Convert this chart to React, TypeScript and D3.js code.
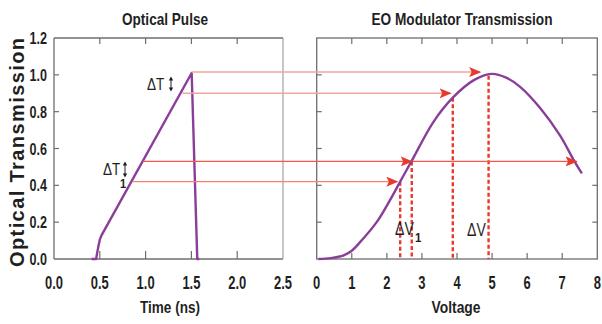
import React from "react";
import * as d3 from "d3";

// ---- data ----
const pulseTime = [0.41, 0.46, 0.47, 0.485, 0.5, 0.52, 1.503, 1.564, 1.586];
const pulseTrans = [0, 0, 0.03, 0.07, 0.105, 0.13, 1.01, 0, 0];

const modVoltage = [0.05, 0.4, 0.77, 1.0, 1.23, 1.71, 2.09, 2.38, 2.7, 3.33, 3.88, 4.47, 4.99, 5.4, 5.8, 6.37, 6.94, 7.32, 7.56];
const modTrans = [0, 0.005, 0.02, 0.045, 0.09, 0.2, 0.32, 0.42, 0.53, 0.745, 0.876, 0.97, 1.005, 0.985, 0.935, 0.82, 0.67, 0.54, 0.465];

const timeTicks = [0, 0.5, 1.0, 1.5, 2.0, 2.5];
const timeTickLabels = ["0.0", "0.5", "1.0", "1.5", "2.0", "2.5"];
const transTicks = [0, 0.2, 0.4, 0.6, 0.8, 1.0, 1.2];
const transTickLabels = ["0.0", "0.2", "0.4", "0.6", "0.8", "1.0", "1.2"];
const voltTicks = [0, 1, 2, 3, 4, 5, 6, 7, 8];
const voltTickLabels = ["0", "1", "2", "3", "4", "5", "6", "7", "8"];

// horizontal projection arrows
const arrowLevels = [1.015, 0.9, 0.53, 0.42];
const arrowStartTime = [1.503, 1.4, 0.97, 0.86];
const arrowEndVolt = [4.66, 3.82, 2.71, 2.3];
const arrowColors = ["#f4a49c", "#f4a49c", "#f2574a", "#f5836f"];
// second arrow along the 0.53 level
const secondArrowLevel = 0.53;
const secondArrowFrom = 2.74;
const secondArrowTo = 7.41;

// dashed drops
const dashVolt = [2.38, 2.71, 3.88, 4.9];
const dashTop = [0.42, 0.53, 0.876, 0.995];

const FONT = "'Liberation Sans', Arial, Helvetica, sans-serif";
const PURPLE = "#8b3e99";
const RED = "#e8392d";
const FRAME = "#6e6e6e";
const INK = "#1f1f1f";

type NTProps = {
  x: number;
  y: number;
  size: number;
  bold?: boolean;
  anchor?: "start" | "middle" | "end";
  sx?: number;
  children: React.ReactNode;
};

function NT({ x, y, size, bold = true, anchor = "start", sx = 0.8, children }: NTProps) {
  return (
    <text
      transform={`translate(${x},${y}) scale(${sx},1)`}
      textAnchor={anchor}
      fontFamily={FONT}
      fontWeight={bold ? "bold" : "normal"}
      fontSize={size}
      fill={INK}
    >
      {children}
    </text>
  );
}

export default function App() {
  const W = 602, H = 324;
  const top = 38, bottom = 259;
  const L1 = 54, R1 = 283;
  const L2 = 316.7, R2 = 597.3;

  const y = d3.scaleLinear().domain([0, 1.2]).range([bottom, top]);
  const xT = d3.scaleLinear().domain([0, 2.5]).range([L1, R1]);
  const xV = d3.scaleLinear().domain([0, 8]).range([L2, R2]);

  const pulseLine = d3
    .line<number>()
    .x((_, i) => xT(pulseTime[i]))
    .y((d) => y(d))
    .curve(d3.curveLinear)(pulseTrans);

  const modLine = d3
    .line<number>()
    .x((_, i) => xV(modVoltage[i]))
    .y((d) => y(d))
    .curve(d3.curveCatmullRom.alpha(0.5))(modTrans);

  const tickLen = 6;

  return (
    <svg width={W} height={H} style={{ position: "absolute", left: 0, top: 0, background: "#fff" }}>
      <defs>
        <marker id="ah" viewBox="0 0 12 10" refX="11" refY="5" markerWidth="12" markerHeight="10" markerUnits="userSpaceOnUse" orient="auto">
          <path d="M0,0 L12,5 L0,10 L2.5,5 Z" fill={RED} />
        </marker>
      </defs>

      {/* titles */}
      <text x={165} y={24.5} textAnchor="middle" fontFamily={FONT} fontWeight="bold" fontSize={17} fill={INK} textLength={86} lengthAdjust="spacingAndGlyphs">
        Optical Pulse
      </text>
      <text x={462} y={24.5} textAnchor="middle" fontFamily={FONT} fontWeight="bold" fontSize={17} fill={INK} textLength={181} lengthAdjust="spacingAndGlyphs">
        EO Modulator Transmission
      </text>

      {/* y axis title */}
      <text
        transform={`translate(24,${152.5}) rotate(-90)`}
        textAnchor="middle"
        fontFamily={FONT}
        fontWeight="bold"
        fontSize={20}
        fill={INK}
        textLength={229}
        lengthAdjust="spacing"
      >
        Optical Transmission
      </text>

      {/* ---- left panel frame ---- */}
      <line x1={L1} x2={L1} y1={top} y2={bottom} stroke={FRAME} strokeWidth={1.3} />
      <line x1={L1} x2={R1} y1={bottom} y2={bottom} stroke={FRAME} strokeWidth={1.3} />
      <line x1={L1} x2={R1} y1={top} y2={top} stroke={FRAME} strokeWidth={1.3} />
      <line x1={R1} x2={R1} y1={top} y2={bottom} stroke="#a8a8a8" strokeWidth={1.3} />
      {transTicks.slice(1, -1).map((t) => (
        <line key={"l1y" + t} x1={L1} x2={L1 + 5} y1={y(t)} y2={y(t)} stroke={FRAME} strokeWidth={1.2} />
      ))}
      {timeTicks.slice(1, -1).map((t) => (
        <g key={"l1x" + t}>
          <line x1={xT(t)} x2={xT(t)} y1={bottom} y2={bottom - 8} stroke={FRAME} strokeWidth={1.2} />
          <line x1={xT(t)} x2={xT(t)} y1={top} y2={top + tickLen} stroke={FRAME} strokeWidth={1.2} />
        </g>
      ))}
      {transTicks.map((t, i) => (
        <NT key={"yl" + t} x={47} y={y(t) + 6} size={17} anchor="end" sx={0.74}>
          {transTickLabels[i]}
        </NT>
      ))}
      {timeTicks.map((t, i) => (
        <NT key={"xl" + t} x={xT(t)} y={289} size={18} anchor="middle" sx={0.72}>
          {timeTickLabels[i]}
        </NT>
      ))}
      <text x={170} y={313} textAnchor="middle" fontFamily={FONT} fontWeight="bold" fontSize={17} fill={INK} textLength={60} lengthAdjust="spacingAndGlyphs">
        Time (ns)
      </text>

      {/* ---- right panel frame ---- */}
      <rect x={L2} y={top} width={R2 - L2} height={bottom - top} fill="none" stroke={FRAME} strokeWidth={1.3} />
      {transTicks.slice(1, -1).map((t) => (
        <g key={"r2y" + t}>
          <line x1={L2} x2={L2 + 5} y1={y(t)} y2={y(t)} stroke={FRAME} strokeWidth={1.2} />
          <line x1={R2} x2={R2 - 5} y1={y(t)} y2={y(t)} stroke={FRAME} strokeWidth={1.2} />
        </g>
      ))}
      {voltTicks.slice(1, -1).map((v) => (
        <g key={"r2x" + v}>
          <line x1={xV(v)} x2={xV(v)} y1={bottom} y2={bottom - tickLen} stroke={FRAME} strokeWidth={1.2} />
          <line x1={xV(v)} x2={xV(v)} y1={top} y2={top + tickLen} stroke={FRAME} strokeWidth={1.2} />
        </g>
      ))}
      {voltTicks.map((v, i) => (
        <NT key={"vl" + v} x={xV(v)} y={289} size={18} anchor="middle" sx={0.72}>
          {voltTickLabels[i]}
        </NT>
      ))}
      <text x={456} y={313} textAnchor="middle" fontFamily={FONT} fontWeight="bold" fontSize={17} fill={INK} textLength={49} lengthAdjust="spacingAndGlyphs">
        Voltage
      </text>

      {/* dashed drops */}
      {dashVolt.map((v, i) => (
        <line key={"dash" + i} x1={xV(v)} x2={xV(v)} y1={y(dashTop[i])} y2={bottom} stroke={RED} strokeWidth={2.4} strokeDasharray="4,2.5" />
      ))}

      {/* curves */}
      <path d={pulseLine || ""} fill="none" stroke={PURPLE} strokeWidth={2.4} strokeLinejoin="round" />
      <path d={modLine || ""} fill="none" stroke={PURPLE} strokeWidth={2.4} />

      {/* projection arrows */}
      {arrowLevels.map((lv, i) => (
        <line
          key={"arr" + i}
          x1={xT(arrowStartTime[i])}
          x2={xV(arrowEndVolt[i])}
          y1={y(lv)}
          y2={y(lv)}
          stroke={arrowColors[i]}
          strokeWidth={1.4}
          markerEnd="url(#ah)"
        />
      ))}
      <line
        x1={xV(secondArrowFrom)}
        x2={xV(secondArrowTo)}
        y1={y(secondArrowLevel)}
        y2={y(secondArrowLevel)}
        stroke="#f2574a"
        strokeWidth={1.4}
        markerEnd="url(#ah)"
      />

      {/* annotations */}
      <NT x={147} y={90} size={16.5} bold={false} sx={0.82}>ΔT</NT>
      <line x1={171} x2={171} y1={78} y2={90} stroke={INK} strokeWidth={1} />
      <path d="M168.8,80.5 L171,76.5 L173.2,80.5 Z M168.8,87.5 L171,91.5 L173.2,87.5 Z" fill={INK} />

      <NT x={103} y={175} size={16.5} bold={false} sx={0.82}>ΔT</NT>
      <NT x={120} y={188} size={13} sx={0.85}>1</NT>
      <line x1={125} x2={125} y1={163} y2={176} stroke={INK} strokeWidth={1} />
      <path d="M122.8,165.5 L125,161.5 L127.2,165.5 Z M122.8,173.5 L125,177.5 L127.2,173.5 Z" fill={INK} />

      <NT x={395} y={235} size={18.5} bold={false} sx={0.76}>ΔV</NT>
      <NT x={415} y={242} size={13.5} sx={0.85}>1</NT>
      <NT x={467} y={236} size={18.5} bold={false} sx={0.76}>ΔV</NT>
    </svg>
  );
}
